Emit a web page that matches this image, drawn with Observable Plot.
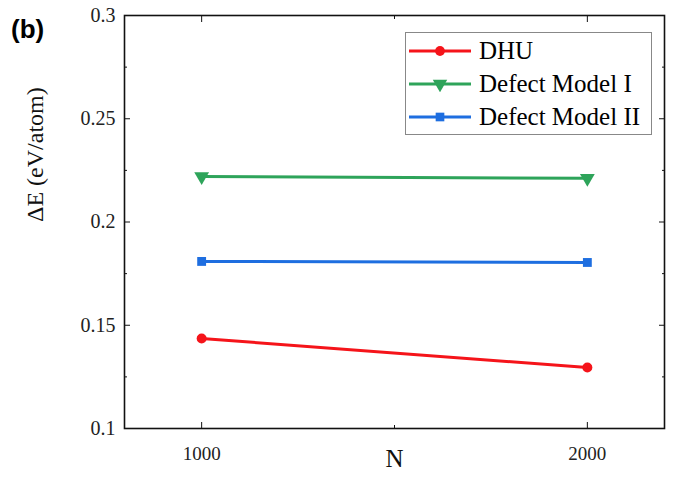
<!DOCTYPE html>
<html><head><meta charset="utf-8">
<script src="https://cdn.jsdelivr.net/npm/d3@7"></script>
<script src="https://cdn.jsdelivr.net/npm/@observablehq/plot@0.6"></script>
<style>
html,body{margin:0;padding:0;background:#fff;}
#wrap{position:relative;width:673px;height:483px;}
#panel{position:absolute;left:11px;top:14px;font:bold 26px "Liberation Sans",Arial,sans-serif;}
#legend{position:absolute;left:405px;top:32px;width:247px;height:103px;border:1px solid #888;box-sizing:border-box;background:#fff;font:25px "Liberation Serif","Times New Roman",serif;padding-top:1px;}
.row{display:flex;align-items:center;height:33px;padding-left:2px;}
.row svg{margin-right:7px;}
</style></head>
<body><div id="wrap"><div id="panel">(b)</div></div>
<script>
const N = [1000, 2000];
const seriesNames = ["DHU", "Defect Model I", "Defect Model II"];
const dhu = [0.1436, 0.1295];
const defect1 = [0.2220, 0.2212];
const defect2 = [0.1809, 0.1804];
const colors = ["#f5141a", "#2ea45a", "#1e6ee0"];
const symbols = ["circle", "triangle", "square"];
const yTicks = [0.1, 0.15, 0.2, 0.25, 0.3];
const yMinor = [0.125, 0.175, 0.225, 0.275];
const xTicks = [1000, 2000];
const xMinor = [1500];

const values = [dhu, defect1, defect2];
const data = [];
seriesNames.forEach((s, i) => N.forEach((n, j) => data.push({series: s, N: n, E: values[i][j]})));

const none = () => "";
const font = '"Liberation Serif","Times New Roman",serif';
const plot = Plot.plot({
  width: 673, height: 483,
  marginLeft: 124, marginRight: 9, marginTop: 15, marginBottom: 55,
  style: {fontFamily: font, fontSize: "18px", color: "#111", background: "#fff"},
  x: {domain: [800, 2200]},
  y: {domain: [0.1, 0.3]},
  color: {domain: seriesNames, range: colors},
  symbol: {domain: seriesNames, range: symbols},
  marks: [
    Plot.axisY({ticks: yTicks, tickSize: -6, tickPadding: 15, tickFormat: d => String(+d.toFixed(2)), label: null, fontSize: 20, fontFamily: font, fill: "#222"}),
    Plot.axisY({ticks: yMinor, tickSize: -3, tickFormat: none, label: null}),
    Plot.axisY({anchor: "right", ticks: yTicks, tickSize: -6, tickFormat: none, label: null}),
    Plot.axisY({anchor: "right", ticks: yMinor, tickSize: -3, tickFormat: none, label: null}),
    Plot.axisX({ticks: xTicks, tickSize: -6, tickPadding: 24, tickFormat: d => String(d), label: null, fontSize: 19, fontFamily: font, fill: "#222"}),
    Plot.axisX({ticks: xMinor, tickSize: -3, tickFormat: none, label: null}),
    Plot.axisX({anchor: "top", ticks: xTicks, tickSize: -6, tickFormat: none, label: null}),
    Plot.axisX({anchor: "top", ticks: xMinor, tickSize: -3, tickFormat: none, label: null}),
    Plot.frame({stroke: "#111", strokeWidth: 1.6}),
    Plot.text(["ΔE (eV/atom)"], {frameAnchor: "left", dx: -89, rotate: -90, fontSize: 24, fill: "#111", fontFamily: font}),
    Plot.text(["N"], {frameAnchor: "bottom", dy: 38, fontSize: 25, fill: "#111", fontFamily: font}),
    Plot.line(data, {x: "N", y: "E", z: "series", stroke: "series", strokeWidth: 3}),
    Plot.dot(data.filter(d => d.series === "DHU"), {x: "N", y: "E", fill: "series", symbol: "series", r: 5, stroke: null}),
    Plot.dot(data.filter(d => d.series === "Defect Model I"), {x: "N", y: "E", fill: "series", symbol: "series", r: 5.5, rotate: 180, stroke: null}),
    Plot.dot(data.filter(d => d.series === "Defect Model II"), {x: "N", y: "E", fill: "series", symbol: "series", r: 5, stroke: null})
  ]
});
const wrap = document.getElementById("wrap");
wrap.insertBefore(plot, wrap.firstChild);

const leg = document.createElement("div");
leg.id = "legend";
const ns = "http://www.w3.org/2000/svg";
seriesNames.forEach((s, i) => {
  const row = document.createElement("div");
  row.className = "row";
  const svg = document.createElementNS(ns, "svg");
  svg.setAttribute("width", 64); svg.setAttribute("height", 16);
  const ln = document.createElementNS(ns, "line");
  ln.setAttribute("x1", 1); ln.setAttribute("x2", 63); ln.setAttribute("y1", 8); ln.setAttribute("y2", 8);
  ln.setAttribute("stroke", colors[i]); ln.setAttribute("stroke-width", 3);
  svg.appendChild(ln);
  const p = document.createElementNS(ns, "path");
  const sym = [d3.symbolCircle, d3.symbolTriangle, d3.symbolSquare][i];
  p.setAttribute("d", d3.symbol(sym, [75, 90, 75][i])());
  p.setAttribute("transform", `translate(32,8)` + (i === 1 ? " rotate(180)" : ""));
  p.setAttribute("fill", colors[i]);
  svg.appendChild(p);
  row.appendChild(svg);
  const t = document.createElement("span");
  t.textContent = s;
  row.appendChild(t);
  leg.appendChild(row);
});
wrap.appendChild(leg);
</script></body></html>
